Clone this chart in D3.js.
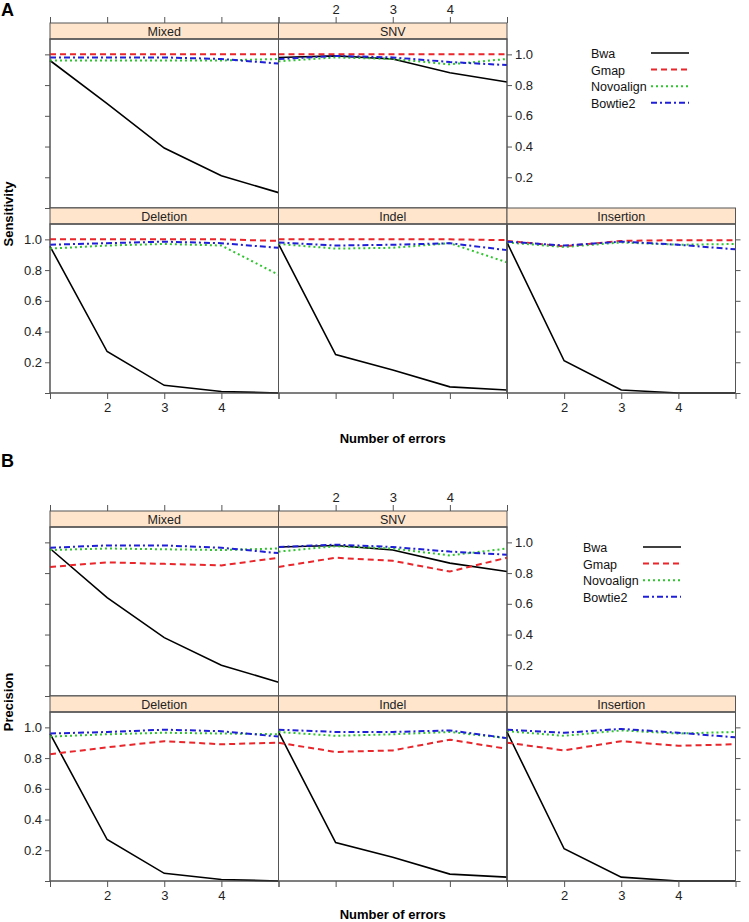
<!DOCTYPE html>
<html lang="en">
<head>
<meta charset="UTF-8">
<title>Sensitivity and precision by number of errors</title>
<script src="https://d3js.org/d3.v7.min.js"></script>
<style>
    body { margin: 0; background: #fff; }
    svg { display: block; font-family: "Liberation Sans", Arial, sans-serif; }
    .frame { fill: none; stroke: #555; stroke-width: 1; }
    .strip { fill: #ffe5cc; stroke: #555; stroke-width: 1; }
    .axis text { font-size: 13px; fill: #222; }
    .axis line { stroke: #555; }
    .axis path { display: none; }
</style>
</head>
<body>
<svg width="749" height="922"></svg>
<script>
// x values and labels
const errors = [1, 2, 3, 4, 5];
const aligners = ["Bwa", "Gmap", "Novoalign", "Bowtie2"];
const panelNames = ["Mixed", "SNV", "Deletion", "Indel", "Insertion"];
const yTicks = [0, 0.2, 0.4, 0.6, 0.8, 1.0];

// Sensitivity, one array per aligner (Bwa, Gmap, Novoalign, Bowtie2)
const sensMixed = [
    [0.96, 0.68, 0.39, 0.21, 0.10],
    [1.00, 1.00, 1.00, 1.00, 1.00],
    [0.96, 0.96, 0.96, 0.96, 0.97],
    [0.98, 0.98, 0.98, 0.97, 0.94]
];
const sensSNV = [
    [0.98, 0.99, 0.97, 0.88, 0.82],
    [1.00, 1.00, 1.00, 1.00, 1.00],
    [0.955, 0.98, 0.97, 0.935, 0.97],
    [0.97, 0.99, 0.98, 0.95, 0.93]
];
const sensDeletion = [
    [0.955, 0.27, 0.05, 0.01, 0.0],
    [1.00, 1.00, 1.00, 1.00, 0.99],
    [0.94, 0.96, 0.97, 0.96, 0.77],
    [0.965, 0.975, 0.985, 0.975, 0.945]
];
const sensIndel = [
    [0.97, 0.25, 0.15, 0.04, 0.02],
    [1.00, 1.00, 1.00, 1.00, 0.995],
    [0.97, 0.94, 0.945, 0.975, 0.85],
    [0.98, 0.96, 0.965, 0.975, 0.93]
];
const sensInsertion = [
    [0.98, 0.21, 0.02, 0.0, 0.0],
    [0.99, 0.955, 0.99, 0.995, 0.995],
    [0.98, 0.95, 0.98, 0.965, 0.97],
    [0.985, 0.96, 0.985, 0.965, 0.935]
];

// Precision, same order
const precMixed = [
    [0.96, 0.64, 0.38, 0.20, 0.09],
    [0.84, 0.87, 0.86, 0.85, 0.90],
    [0.95, 0.96, 0.955, 0.95, 0.96],
    [0.965, 0.98, 0.98, 0.965, 0.93]
];
const precSNV = [
    [0.97, 0.98, 0.95, 0.865, 0.81],
    [0.84, 0.90, 0.88, 0.81, 0.90],
    [0.94, 0.975, 0.96, 0.915, 0.96],
    [0.97, 0.985, 0.97, 0.94, 0.92]
];
const precDeletion = [
    [0.96, 0.27, 0.05, 0.01, 0.0],
    [0.825, 0.87, 0.91, 0.89, 0.90],
    [0.94, 0.955, 0.965, 0.96, 0.955],
    [0.96, 0.97, 0.985, 0.975, 0.94]
];
const precIndel = [
    [0.97, 0.25, 0.155, 0.045, 0.025],
    [0.90, 0.84, 0.85, 0.92, 0.86],
    [0.97, 0.945, 0.955, 0.97, 0.93],
    [0.985, 0.97, 0.97, 0.98, 0.93]
];
const precInsertion = [
    [0.97, 0.21, 0.025, 0.0, 0.0],
    [0.90, 0.85, 0.91, 0.88, 0.89],
    [0.975, 0.945, 0.98, 0.96, 0.97],
    [0.985, 0.965, 0.99, 0.965, 0.935]
];

const sensitivity = [sensMixed, sensSNV, sensDeletion, sensIndel, sensInsertion];
const precision = [precMixed, precSNV, precDeletion, precIndel, precInsertion];

// line styles for the four aligners
const styles = [
    {color: "#000000", dash: null, width: 1.6},
    {color: "#e8262b", dash: "6,4", width: 2},
    {color: "#2ec52e", dash: "2,3", width: 2},
    {color: "#1f1fd6", dash: "6,3,2,3", width: 2}
];

const svg = d3.select("svg");

const left = 50, colW = 228.5, stripH = 16, plotH = 169;

const x = d3.scaleLinear().domain([1, 5]).range([0, colW]);
const y = d3.scaleLinear().domain([0, 1.1]).range([plotH, 0]);

const line = d3.line()
    .x((d, i) => x(errors[i]))
    .y(d => y(d));

// cell positions: [col, row]
const cells = [[0, 0], [1, 0], [0, 1], [1, 1], [2, 1]];

function drawFigure(top, letter, letterY, yTitle, values, legendX, legendY, xTitleY) {
    const g = svg.append("g");

    g.append("text")
        .attr("x", 1).attr("y", letterY)
        .attr("font-size", 18).attr("font-weight", "bold")
        .text(letter);

    cells.forEach(([c, r], k) => {
        const px = left + c * colW;
        const sy = top + r * (stripH + plotH);
        const py = sy + stripH;
        const cell = g.append("g");

        // strip
        cell.append("rect").attr("class", "strip")
            .attr("x", px).attr("y", sy).attr("width", colW).attr("height", stripH);
        cell.append("text")
            .attr("x", px + colW / 2).attr("y", sy + 12.5)
            .attr("text-anchor", "middle").attr("font-size", 12.5).attr("fill", "#222")
            .text(panelNames[k]);

        // panel
        const panel = cell.append("g").attr("transform", `translate(${px},${py})`);
        panel.append("rect").attr("class", "frame")
            .attr("width", colW).attr("height", plotH).attr("fill", "#fff");

        values[k].forEach((series, s) => {
            panel.append("path")
                .datum(series)
                .attr("d", line)
                .attr("fill", "none")
                .attr("stroke", styles[s].color)
                .attr("stroke-width", styles[s].width)
                .attr("stroke-dasharray", styles[s].dash);
        });
        panel.append("rect").attr("class", "frame")
            .attr("width", colW).attr("height", plotH);

        const fmtY = d => d === 0 ? "" : d.toFixed(1);
        const fmtX = d => (d === 1 || d === 5) ? "" : d;
        const noLab = () => "";

        // left axis on first column
        if (c === 0) {
            panel.append("g").attr("class", "axis")
                .call(d3.axisLeft(y).tickValues(yTicks).tickSize(5).tickPadding(3)
                    .tickFormat(r === 1 ? fmtY : noLab));
        }
        // right axis on last panel of each row
        if ((r === 0 && c === 1) || (r === 1 && c === 2)) {
            panel.append("g").attr("class", "axis")
                .attr("transform", `translate(${colW},0)`)
                .call(d3.axisRight(y).tickValues(yTicks).tickSize(5).tickPadding(3)
                    .tickFormat(r === 0 ? fmtY : noLab));
        }
        // top axis on first row, above strips
        if (r === 0) {
            cell.append("g").attr("class", "axis")
                .attr("transform", `translate(${px},${sy})`)
                .call(d3.axisTop(x).tickValues(errors).tickSize(6).tickPadding(3)
                    .tickFormat(c === 1 ? fmtX : noLab));
        }
        // bottom axis on second row
        if (r === 1) {
            panel.append("g").attr("class", "axis")
                .attr("transform", `translate(0,${plotH})`)
                .call(d3.axisBottom(x).tickValues(errors).tickSize(6).tickPadding(4)
                    .tickFormat(c !== 1 ? fmtX : noLab));
        }
    });

    // y title
    g.append("text")
        .attr("transform", `translate(13,${top + 191}) rotate(-90)`)
        .attr("text-anchor", "middle").attr("font-size", 13).attr("font-weight", "bold")
        .text(yTitle);

    // x title
    g.append("text")
        .attr("x", left + 1.5 * colW).attr("y", xTitleY)
        .attr("text-anchor", "middle").attr("font-size", 13).attr("font-weight", "bold")
        .text("Number of errors");

    // legend
    aligners.forEach((name, s) => {
        const ly = legendY + s * 16.6;
        g.append("text")
            .attr("x", legendX).attr("y", ly)
            .attr("font-size", 12.5).attr("fill", "#111")
            .text(name);
        g.append("line")
            .attr("x1", legendX + 60).attr("x2", legendX + 98)
            .attr("y1", ly - 5).attr("y2", ly - 5)
            .attr("stroke", styles[s].color)
            .attr("stroke-width", styles[s].width)
            .attr("stroke-dasharray", styles[s].dash);
    });
}

drawFigure(23, "A", 16, "Sensitivity", sensitivity, 591, 58, 443);
drawFigure(511, "B", 467, "Precision", precision, 583, 552, 919);
</script>
</body>
</html>
